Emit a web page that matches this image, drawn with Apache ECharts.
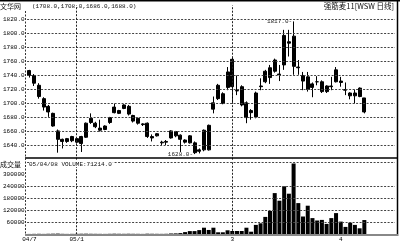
<!DOCTYPE html>
<html><head><meta charset="utf-8">
<script src="https://cdn.jsdelivr.net/npm/echarts@6/dist/echarts.min.js"></script>
<style>html,body{margin:0;padding:0;background:#fff}#c{width:400px;height:244px}</style>
</head><body><div id="c"></div>
<script>
const dates = [
 '04/12/20','04/12/21','04/12/22','04/12/23','04/12/24','04/12/27','04/12/28','04/12/29','04/12/30','04/12/31',
 '05/01/04','05/01/05','05/01/06','05/01/07','05/01/10','05/01/11','05/01/12','05/01/13','05/01/14','05/01/17',
 '05/01/18','05/01/19','05/01/20','05/01/21','05/01/24','05/01/25','05/01/26','05/01/27','05/01/28','05/01/31',
 '05/02/01','05/02/02','05/02/03','05/02/04','05/02/16','05/02/17','05/02/18','05/02/21','05/02/22','05/02/23',
 '05/02/24','05/02/25','05/02/28',
 '05/03/01','05/03/02','05/03/03','05/03/04','05/03/07','05/03/08','05/03/09','05/03/10','05/03/11','05/03/14',
 '05/03/15','05/03/16','05/03/17','05/03/18','05/03/21','05/03/22','05/03/23','05/03/24','05/03/25','05/03/28',
 '05/03/29','05/03/30','05/03/31',
 '05/04/01','05/04/04','05/04/05','05/04/06','05/04/07','05/04/08'
];
const opens = [
 1747,1740,1726,1707,1696,1686,1661,1649,1646,1647,
 1650,1643,1652,1673,1672,1665,1663,1673,1687,1690,
 1693,1696,1683,1679,1671,1672,1653,1654,1644,1646,
 1651,1660,1655,1648,1644,1644,1632,1662,1634,1692,
 1707,1714,1723,
 1763,1718,1724,1701,1687,1681,1724,1731,1737,1746,
 1741,1755,1788,1796,1752,1740,1738,1723,1731,1731,
 1717,1725,1731,
 1732,1720,1715,1715,1722,1708
];
const highs = [
 1748,1742,1729,1709,1698,1687,1663,1650,1651,1654,
 1651,1654,1673,1686,1674,1677,1669,1681,1700,1691,
 1699,1698,1684,1680,1672,1673,1656,1658,1647,1648,
 1662,1661,1656,1649,1655,1646,1636,1663,1670,1710,
 1728,1716,1752,
 1765,1740,1726,1703,1692,1717,1736,1748,1755,1764,
 1755,1805,1805,1817,1762,1745,1745,1730,1739,1733,
 1726,1738,1752,
 1738,1730,1716,1720,1723,1708
];
const lows = [
 1737,1725,1707,1690,1681,1667,1630,1636,1644,1645,
 1643,1631,1651,1671,1665,1660,1662,1671,1686,1685,
 1692,1683,1673,1670,1668,1651,1646,1653,1641,1641,
 1650,1652,1631,1643,1643,1628,1629,1632,1633,1686,
 1705,1699,1719,
 1700,1712,1696,1672,1677,1679,1719,1729,1728,1744,
 1732,1748,1767,1741,1741,1719,1717,1709,1726,1715,
 1715,1719,1730,
 1724,1712,1706,1700,1709,1686
];
const closes = [
 1740,1729,1710,1695,1688,1668,1649,1646,1650,1653,
 1645,1653,1672,1679,1667,1662,1668,1680,1695,1686,
 1698,1685,1675,1672,1670,1653,1651,1657,1645,1645,
 1661,1654,1649,1645,1654,1630,1634,1634,1669,1701,
 1726,1700,1745,
 1724,1718.5,1698,1680,1690,1715,1725,1746,1751,1762,
 1742,1797,1786,1753,1751,1732,1720,1728,1731,1717,
 1725,1724,1748,
 1730,1719,1711,1711,1710,1688
];
const volumes = [
 1800,2200,2500,2000,2600,3000,3500,2400,2000,2200,
 2500,2800,3000,2600,2400,2200,2000,2500,3000,2600,
 2400,2800,2500,2300,2000,3000,2600,2400,2200,2500,
 4000,4500,6000,11000,16000,16000,21000,33000,21700,33000,
 10000,10000,20000,
 16600,16600,16600,33000,13000,47000,55000,87000,117000,206000,
 168000,240000,203000,354000,156000,89000,143000,81000,69000,72000,
 52000,81000,106000,
 63500,37000,58000,47000,30000,71214
];
const priceGridValues = [1640,1660,1680,1700,1720,1740,1760,1780,1800,1820];
const volumeGridValues = [60000,120000,180000,240000,360000];
const tickDates = ['04/12/20','05/01/04','05/03/01','05/04/01'];
const tickTexts = ['04/7','05/1','3','4'];
const monthLines = ['05/01/04','05/03/01'];
const titleLeft = '文华网';
const titleRight = '强筋麦11[WSW 日线]';
const volumeTitle = '成交量';

const last = dates.length - 1;
const candleData = dates.map((d, i) => [opens[i], closes[i], lows[i], highs[i]]);
const priceHeader = '(' + [opens[last], highs[last], lows[last], closes[last]].map(v => v.toFixed(1)).join(',') + ')';
const volumeHeader = dates[last] + ' VOLUME:' + volumes[last].toFixed(1);

const MONO = '"Liberation Mono","DejaVu Sans Mono",monospace';
const CJK = '"Noto Sans CJK SC",sans-serif';
const dash = { type: [2, 1.5], color: '#444', width: 1 };

const chart = echarts.init(document.getElementById('c'), null, { renderer: 'canvas' });
const xBase = {
  type: 'category', data: dates, max: 77, boundaryGap: true,
  axisLine: { show: false }, axisTick: { show: false }, splitLine: { show: false }
};
chart.setOption({
  animation: false,
  backgroundColor: '#fff',
  grid: [
    { left: 26, width: 369, top: 5.26, height: 154.44 },
    { left: 26, width: 369, top: 162.3, height: 72 }
  ],
  xAxis: [
    Object.assign({}, xBase, { gridIndex: 0, axisLabel: { show: false } }),
    Object.assign({}, xBase, {
      gridIndex: 1,
      axisLabel: {
        show: true, margin: 2, fontSize: 6, fontFamily: MONO, color: '#000',
        interval: (idx, val) => tickDates.includes(val),
        formatter: (val) => { const k = tickDates.indexOf(val); return k >= 0 ? tickTexts[k] : ''; }
      }
    })
  ],
  yAxis: [
    {
      gridIndex: 0, type: 'value', min: 1620, max: 1840, interval: 20,
      axisLine: { show: false }, axisTick: { show: false }, splitLine: { show: false },
      axisLabel: { margin: 2.5, fontSize: 6, fontFamily: MONO, color: '#000', showMinLabel: false, showMaxLabel: false,
        formatter: v => (v === 1620 || v === 1840) ? '' : v.toFixed(1) }
    },
    {
      gridIndex: 1, type: 'value', min: 0, max: 360000, interval: 60000,
      axisLine: { show: false }, axisTick: { show: false }, splitLine: { show: false },
      axisLabel: { margin: 2.5, fontSize: 6, fontFamily: MONO, color: '#000', showMinLabel: false, showMaxLabel: false,
        formatter: v => (v === 0 || v === 360000) ? '' : String(v) }
    }
  ],
  series: [
    {
      type: 'candlestick', xAxisIndex: 0, yAxisIndex: 0, data: candleData, barWidth: 3.5,
      itemStyle: { color: '#000', color0: '#000', borderColor: '#000', borderColor0: '#000', borderWidth: 1 },
      markLine: {
        silent: true, symbol: 'none', label: { show: false }, animation: false,
        lineStyle: dash,
        data: priceGridValues.map(v => ({ yAxis: v }))
          .concat(monthLines.map(d => ({ xAxis: d, lineStyle: { type: [2, 1.5], color: '#222', width: 1 } })))
      },
      markPoint: {
        symbol: 'circle', symbolSize: 1, itemStyle: { color: 'rgba(0,0,0,0)' }, silent: true,
        label: { show: true, position: 'left', distance: 1, fontSize: 6, fontFamily: MONO, color: '#222',
          formatter: p => p.value.toFixed(1) + '-' },
        data: [{ type: 'max', valueDim: 'highest' }, { type: 'min', valueDim: 'lowest' }]
      }
    },
    {
      type: 'bar', xAxisIndex: 1, yAxisIndex: 1, data: volumes, barWidth: 4,
      itemStyle: { color: '#000' },
      markLine: {
        silent: true, symbol: 'none', label: { show: false }, animation: false,
        lineStyle: dash,
        data: volumeGridValues.map(v => ({ yAxis: v }))
          .concat(monthLines.map(d => ({ xAxis: d, lineStyle: { type: [2, 1.5], color: '#222', width: 1 } })))
      }
    }
  ],
  graphic: [
    { type: 'rect', z: 50, shape: { x: 0, y: 0, width: 400, height: 1.5 }, style: { fill: '#000' } },
    { type: 'line', z: 50, shape: { x1: 25, y1: 158, x2: 398, y2: 158 }, style: { stroke: '#000', lineWidth: 1.5 } },
    { type: 'line', z: 50, shape: { x1: 397.5, y1: 0, x2: 397.5, y2: 236 }, style: { stroke: '#000', lineWidth: 1.5 } },
    { type: 'line', z: 50, shape: { x1: 25.5, y1: 11, x2: 25.5, y2: 234 }, style: { stroke: '#333', lineWidth: 1, lineDash: [2, 1.5] } },
    { type: 'line', z: 50, shape: { x1: 25, y1: 235, x2: 398, y2: 235 }, style: { stroke: '#888', lineWidth: 2 } },
    { type: 'text', z: 60, x: 0, y: 6, style: { text: titleLeft, font: '7px ' + CJK, fill: '#111', align: 'left', verticalAlign: 'middle' } },
    { type: 'text', z: 60, x: 32, y: 6, style: { text: priceHeader, font: '6px ' + MONO, fill: '#111', align: 'left', verticalAlign: 'middle' } },
    { type: 'text', z: 60, x: 394, y: 6, style: { text: titleRight, font: '7.5px ' + CJK, fill: '#111', align: 'right', verticalAlign: 'middle' } },
    { type: 'text', z: 60, x: 0, y: 164, style: { text: volumeTitle, font: '7px ' + CJK, fill: '#111', align: 'left', verticalAlign: 'middle' } },
    { type: 'text', z: 60, x: 29, y: 164, style: { text: volumeHeader, font: '6px ' + MONO, fill: '#111', align: 'left', verticalAlign: 'middle', backgroundColor: '#fff', padding: [0, 1, 0, 0] } }
  ]
});
</script>
</body></html>
